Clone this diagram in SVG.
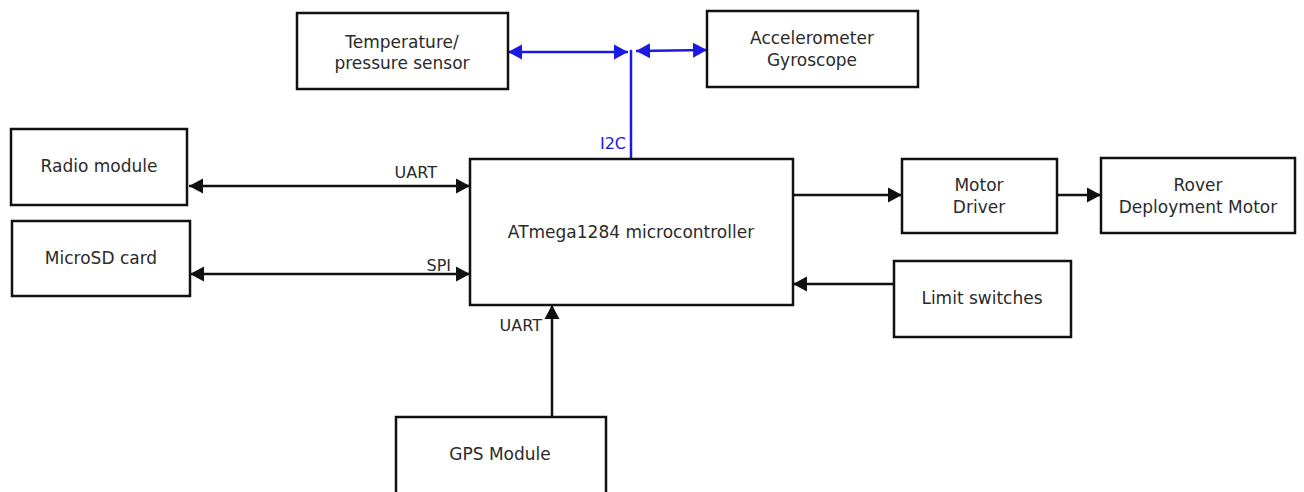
<svg xmlns="http://www.w3.org/2000/svg" width="1304" height="492" viewBox="0 0 1304 492">
<style>
.box{fill:#fff;stroke:#111;stroke-width:2.5}
.t{font-family:"DejaVu Sans",Verdana,sans-serif;font-size:17px;fill:#2a2a2a;text-anchor:middle;dominant-baseline:central}
.lbl{font-family:"DejaVu Sans",Verdana,sans-serif;font-size:16px;fill:#2a2a2a}
.k{fill:none;stroke:#111;stroke-width:2.5}
.b{fill:none;stroke:#1a1ae0;stroke-width:2.5}
</style>
<defs>
<marker id="ak" markerUnits="userSpaceOnUse" markerWidth="16" markerHeight="16" refX="14" refY="8" orient="auto-start-reverse"><path d="M0,0.5 L14,8 L0,15.5 z" fill="#111"/></marker>
<marker id="ab" markerUnits="userSpaceOnUse" markerWidth="16" markerHeight="16" refX="14" refY="8" orient="auto-start-reverse"><path d="M0,0.5 L14,8 L0,15.5 z" fill="#1a1ae0"/></marker>
</defs>
<rect width="1304" height="492" fill="#fff"/>
<g id="connectors">
<path class="b" d="M508,52 L628,52" marker-start="url(#ab)" marker-end="url(#ab)"/>
<path class="b" d="M636,51 L707,50" marker-start="url(#ab)" marker-end="url(#ab)"/>
<path class="b" d="M631,50 L631,159"/>
<text class="lbl" x="626" y="149" text-anchor="end" style="fill:#1a1ae0">I2C</text>
<path class="k" d="M189,186 L470,186" marker-start="url(#ak)" marker-end="url(#ak)"/>
<text class="lbl" x="437" y="178" text-anchor="end">UART</text>
<path class="k" d="M190,274 L470,274" marker-start="url(#ak)" marker-end="url(#ak)"/>
<text class="lbl" x="451" y="271" text-anchor="end">SPI</text>
<path class="k" d="M793,195 L902,195" marker-end="url(#ak)"/>
<path class="k" d="M1057,195 L1101,195" marker-end="url(#ak)"/>
<path class="k" d="M894,284 L793,284" marker-end="url(#ak)"/>
<path class="k" d="M552,417 L552,305" marker-end="url(#ak)"/>
<text class="lbl" x="542" y="331" text-anchor="end">UART</text>
</g>
<g id="temp"><rect class="box" x="297" y="13" width="211" height="76"/><text class="t" x="402" y="42">Temperature/</text><text class="t" x="402" y="63">pressure sensor</text></g>
<g id="accel"><rect class="box" x="707" y="11" width="211" height="76"/><text class="t" x="812" y="38">Accelerometer</text><text class="t" x="812" y="60">Gyroscope</text></g>
<g id="radio"><rect class="box" x="11" y="129" width="176" height="76"/><text class="t" x="99" y="166">Radio module</text></g>
<g id="microsd"><rect class="box" x="12" y="221" width="178" height="75"/><text class="t" x="101" y="258">MicroSD card</text></g>
<g id="mcu"><rect class="box" x="470" y="159" width="323" height="146"/><text class="t" x="631" y="232">ATmega1284 microcontroller</text></g>
<g id="motordriver"><rect class="box" x="902" y="159" width="155" height="74"/><text class="t" x="979" y="185">Motor</text><text class="t" x="979" y="207">Driver</text></g>
<g id="rover"><rect class="box" x="1101" y="158" width="194" height="75"/><text class="t" x="1198" y="185">Rover</text><text class="t" x="1198" y="207">Deployment Motor</text></g>
<g id="limit"><rect class="box" x="894" y="261" width="177" height="76"/><text class="t" x="982" y="298">Limit switches</text></g>
<g id="gps"><rect class="box" x="396" y="417" width="210" height="85"/><text class="t" x="500" y="454">GPS Module</text></g>
</svg>
